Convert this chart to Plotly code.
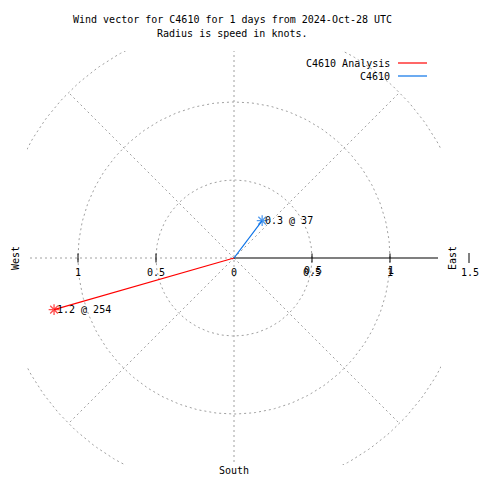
import numpy as np
import plotly.graph_objects as go

# ---- data ----
series_names = ["C4610 Analysis", "C4610"]
speeds = [1.2, 0.3]          # knots
directions = [254, 37]       # degrees (compass)
series_colors = ["#ff0000", "#0a72e8"]
ring_radii = [0.5, 1.0, 1.5]
spoke_angles = [45, 135, 225, 315]
tick_values = [-1, -0.5, 0, 0.5, 1]
tick_labels = ["1", "0.5", "0", "0.5", "1"]

W = H = 480
# plot frame in page pixels: x 27..441, y 51..465
L, T = 27, 51
PW = PH = 414
R = W - L - PW
B = H - T - PH
UNIT = 156.0  # px per knot
XR = (PW / 2) / UNIT
YR = (PH / 2) / UNIT

def px_x(px):  # page pixel -> paper
    return (px - L) / PW

def px_y(py):
    return (T + PH - py) / PH

FONT = dict(family="DejaVu Sans Mono", size=10, color="black")
GRID = dict(color="#a0a0a0", width=1, dash="2px,3px")

fig = go.Figure()

# rings
th = np.linspace(0, 2 * np.pi, 361)
for r in ring_radii:
    fig.add_trace(go.Scatter(x=r * np.cos(th), y=r * np.sin(th), mode="lines",
                             line=GRID, hoverinfo="skip", showlegend=False))
# spokes
rmax = max(ring_radii)
for a in spoke_angles:
    ar = np.radians(a)
    fig.add_trace(go.Scatter(x=[0, rmax * np.cos(ar)], y=[0, rmax * np.sin(ar)], mode="lines",
                             line=GRID, hoverinfo="skip", showlegend=False))
fig.add_trace(go.Scatter(x=[0, 0], y=[-rmax, rmax], mode="lines", line=GRID,
                         hoverinfo="skip", showlegend=False))
fig.add_trace(go.Scatter(x=[-rmax, 0], y=[0, 0], mode="lines", line=GRID,
                         hoverinfo="skip", showlegend=False))
# east solid axis
fig.add_trace(go.Scatter(x=[0, 1.308], y=[0, 0], mode="lines",
                         line=dict(color="black", width=1.2),
                         hoverinfo="skip", showlegend=False))

annotations = []
# vectors
for name, s, d, c in zip(series_names, speeds, directions, series_colors):
    u = s * np.sin(np.radians(d))
    v = s * np.cos(np.radians(d))
    fig.add_trace(go.Scatter(x=[0, u], y=[0, v], mode="lines+markers", name=name,
                             line=dict(color=c, width=1.2),
                             marker=dict(symbol=["circle", "asterisk-open"], size=[0.1, 9],
                                         color=c, line=dict(color=c, width=1.3)),
                             showlegend=False))
    annotations.append(dict(x=u, y=v, xref="x", yref="y", text=f"{s:g} @ {d}",
                            showarrow=False, xanchor="left", yanchor="middle",
                            xshift=1, font=FONT))

shapes = []
# tick marks
for tv in tick_values:
    if tv == 0:
        continue
    shapes.append(dict(type="line", xref="x", yref="y", x0=tv, x1=tv,
                       y0=-4.5 / UNIT, y1=4.5 / UNIT, line=dict(color="black", width=1)))
# outer 1.5 tick beyond the frame
shapes.append(dict(type="line", xref="paper", yref="paper", x0=px_x(469), x1=px_x(469),
                   y0=px_y(253), y1=px_y(263), line=dict(color="black", width=1)))

def label(px, py, text, xanchor="center", angle=0):
    annotations.append(dict(x=px_x(px), y=px_y(py), xref="paper", yref="paper", text=text,
                            showarrow=False, xanchor=xanchor, yanchor="middle",
                            textangle=angle, font=FONT))

for tv, tl in zip(tick_values, tick_labels):
    xpx = 234 + tv * UNIT
    label(xpx, 272, tl)
    if tv > 0:
        label(xpx + 1, 270, tl)
label(470, 272, "1.5")
label(452, 258, "East", angle=-90)
label(15, 258, "West", angle=-90)
label(234, 470, "South")
# title
label(232, 20, "Wind vector for C4610 for 1 days from 2024-Oct-28 UTC")
label(232, 33, "Radius is speed in knots.")
# legend
for i, (name, c) in enumerate(zip(series_names, series_colors)):
    ly = 63 + 13 * i
    label(392, ly, name, xanchor="right")
    shapes.append(dict(type="line", xref="paper", yref="paper", x0=px_x(398), x1=px_x(427),
                       y0=px_y(ly), y1=px_y(ly), line=dict(color=c, width=1.2)))

fig.update_layout(
    width=W, height=H, margin=dict(l=L, r=R, t=T, b=B),
    paper_bgcolor="white", plot_bgcolor="white",
    xaxis=dict(range=[-XR, XR], visible=False, fixedrange=True),
    yaxis=dict(range=[-YR, YR], visible=False, fixedrange=True),
    shapes=shapes, annotations=annotations, showlegend=False,
)
fig.write_html("out.html", config={"displayModeBar": False},
               post_script="document.body.style.margin='0';document.body.style.overflow='hidden';")
